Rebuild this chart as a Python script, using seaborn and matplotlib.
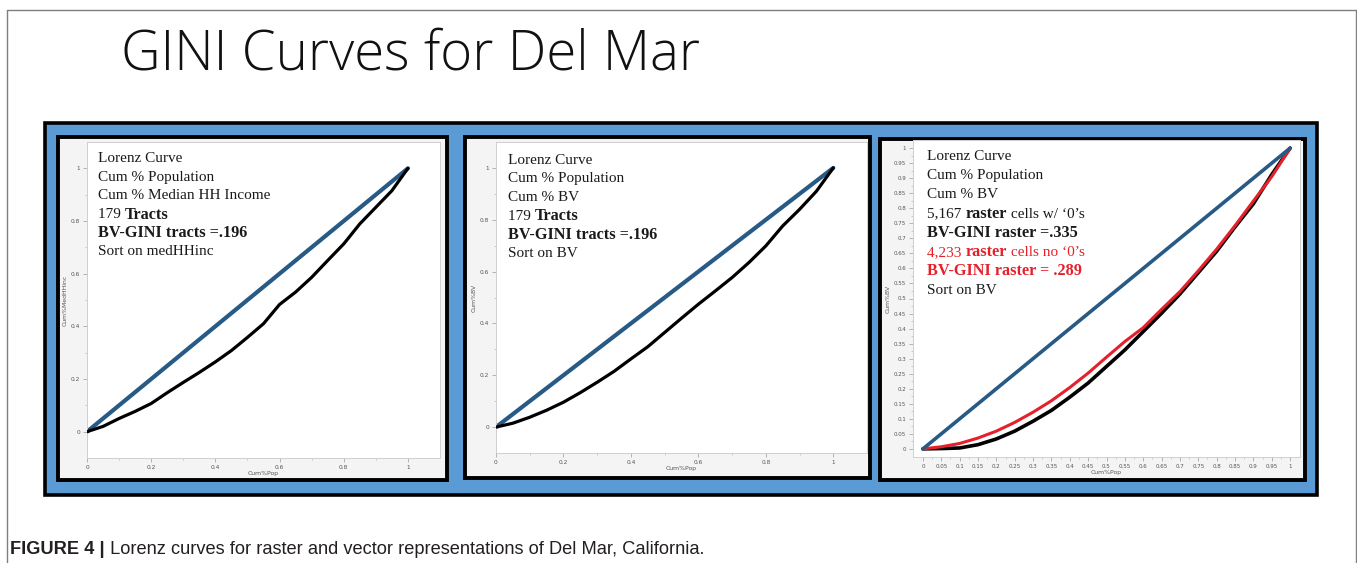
import numpy as np
import pandas as pd
import matplotlib
matplotlib.use("Agg")
import matplotlib.pyplot as plt
import seaborn as sns
from matplotlib.patches import Rectangle
from matplotlib.lines import Line2D

# ---------------- data ----------------
title_text = "GINI Curves for Del Mar"
caption_bold = "FIGURE 4 |"
caption_text = " Lorenz curves for raster and vector representations of Del Mar, California."

equality_x = [0.0, 1.0]
equality_y = [0.0, 1.0]

tract_x = [0, 0.05, 0.1, 0.15, 0.2, 0.25, 0.3, 0.35, 0.4, 0.45, 0.5, 0.55, 0.6, 0.65, 0.7,
           0.75, 0.8, 0.85, 0.9, 0.95, 1.0]
income_y = [0, 0.02, 0.05, 0.077, 0.107, 0.148, 0.187, 0.225, 0.265, 0.308, 0.358, 0.41,
            0.483, 0.53, 0.586, 0.65, 0.713, 0.789, 0.852, 0.915, 1.0]
bv_tract_y = [0, 0.015, 0.038, 0.065, 0.096, 0.133, 0.173, 0.215, 0.263, 0.31, 0.365, 0.42,
              0.474, 0.525, 0.577, 0.635, 0.699, 0.776, 0.84, 0.91, 1.0]

raster_x = [0, 0.05, 0.1, 0.15, 0.2, 0.25, 0.3, 0.35, 0.4, 0.45, 0.5, 0.55, 0.6, 0.65, 0.7,
            0.75, 0.8, 0.85, 0.9, 0.95, 1.0]
raster_zeros_y = [0, 0.001, 0.003, 0.014, 0.033, 0.059, 0.092, 0.128, 0.172, 0.219, 0.274,
                  0.329, 0.39, 0.451, 0.515, 0.586, 0.657, 0.738, 0.815, 0.912, 1.0]
raster_nozeros_y = [0, 0.007, 0.018, 0.036, 0.059, 0.088, 0.122, 0.16, 0.204, 0.252, 0.305,
                    0.357, 0.403, 0.464, 0.523, 0.592, 0.664, 0.742, 0.824, 0.905, 1.0]

tract_ticks = [0, 0.2, 0.4, 0.6, 0.8, 1.0]
tract_tick_labels = ["0", "0.2", "0.4", "0.6", "0.8", "1"]
raster_ticks = [round(0.05 * i, 2) for i in range(21)]
raster_tick_labels = ["0", "0.05", "0.1", "0.15", "0.2", "0.25", "0.3", "0.35", "0.4", "0.45",
                      "0.5", "0.55", "0.6", "0.65", "0.7", "0.75", "0.8", "0.85", "0.9", "0.95", "1"]

TXT = "#1a1a1a"
RED = "#e5202b"
left_lines = [
    [("Lorenz Curve", "normal", TXT)],
    [("Cum % Population", "normal", TXT)],
    [("Cum % Median HH Income", "normal", TXT)],
    [("179 ", "normal", TXT), ("Tracts", "bold", TXT)],
    [("BV-GINI tracts =.196", "bold", TXT)],
    [("Sort on medHHinc", "normal", TXT)],
]
mid_lines = [
    [("Lorenz Curve", "normal", TXT)],
    [("Cum % Population", "normal", TXT)],
    [("Cum % BV", "normal", TXT)],
    [("179 ", "normal", TXT), ("Tracts", "bold", TXT)],
    [("BV-GINI tracts =.196", "bold", TXT)],
    [("Sort on BV", "normal", TXT)],
]
right_lines = [
    [("Lorenz Curve", "normal", TXT)],
    [("Cum % Population", "normal", TXT)],
    [("Cum % BV", "normal", TXT)],
    [("5,167 ", "normal", TXT), ("raster", "bold", TXT),
     (" cells w/ \u20180\u2019s", "normal", TXT)],
    [("BV-GINI raster =.335", "bold", TXT)],
    [("4,233 ", "normal", RED), ("raster", "bold", RED),
     (" cells no \u20180\u2019s", "normal", RED)],
    [("BV-GINI raster = .289", "bold", RED)],
    [("Sort on BV", "normal", TXT)],
]

# ---------------- figure ----------------
sns.set_theme(style="white")
plt.rcParams["font.family"] = ["DejaVu Sans"]

W, H = 1357, 563
fig = plt.figure(figsize=(W / 100, H / 100), dpi=100)
fig.patch.set_facecolor("white")
renderer = fig.canvas.get_renderer()


def fx(px):
    return px / W


def fy(py):
    return 1 - py / H


def prect(x0, y0, x1, y1):
    return [x0 / W, 1 - y1 / H, (x1 - x0) / W, (y1 - y0) / H]


def box(x0, y0, x1, y1, fc, ec, lw, z):
    r = Rectangle((x0 / W, 1 - y1 / H), (x1 - x0) / W, (y1 - y0) / H,
                  transform=fig.transFigure, facecolor=fc, edgecolor=ec, linewidth=lw, zorder=z)
    fig.add_artist(r)


# outer slide frame
for xs, ys in [([7, 7], [10, H]), ([7, 1356], [10, 10]), ([1356, 1356], [10, H])]:
    fig.add_artist(Line2D([fx(v) for v in xs], [fy(v) for v in ys], transform=fig.transFigure,
                          color="#7f7f7f", lw=1.0, zorder=-5))

# blue panel and white inner panels
box(45, 123, 1317, 495, "#5b9bd5", "black", 2.6, -4)
box(58, 137, 447, 480, "#f4f4f4", "black", 2.8, -3)
box(465, 137, 870, 478, "#f4f4f4", "black", 2.8, -3)
box(880, 139, 1305, 480, "#f4f4f4", "black", 2.8, -3)


def text_width(s, size, family, weight):
    t1 = fig.text(0, 0, s + "|", fontsize=size, family=family, fontweight=weight)
    t2 = fig.text(0, 0, "|", fontsize=size, family=family, fontweight=weight)
    w = t1.get_window_extent(renderer).width - t2.get_window_extent(renderer).width
    t1.remove()
    t2.remove()
    return w


def fit_text(x, y, s, target_w, family, weight="normal", color="black", size0=20, va="center"):
    t = fig.text(fx(x), fy(y), s, fontsize=size0, family=family, fontweight=weight, color=color,
                 ha="left", va=va)
    w = t.get_window_extent(renderer).width
    t.set_fontsize(size0 * target_w / w)
    return t


SERIF = ["Liberation Serif", "DejaVu Serif"]


def rich(x, y, parts, size=11.0, bold_size=11.7):
    for s, weight, color in parts:
        sz = bold_size if weight == "bold" else size
        fig.text(fx(x), fy(y), s, fontsize=sz, family=SERIF, fontweight=weight, color=color,
                 ha="left", va="center", zorder=10)
        x += text_width(s, sz, SERIF, weight)


# title
fit_text(121, 69, title_text, 578, ["Open Sans", "Lato", "DejaVu Sans"], weight=300,
         color="#111111", size0=40, va="baseline")

# caption (bold lead + regular text fitted to the reference width)
cap_family = ["Liberation Sans", "DejaVu Sans"]
s0 = 12.0
wtot = text_width(caption_bold, s0, cap_family, "bold") + text_width(caption_text, s0, cap_family, "normal")
cap_size = s0 * 695 / wtot
fig.text(fx(10), fy(549), caption_bold, fontsize=cap_size, family=cap_family, fontweight="bold",
         color="#231f20", ha="left", va="center")
cx = 10 + text_width(caption_bold, cap_size, cap_family, "bold")
fig.text(fx(cx), fy(549), caption_text, fontsize=cap_size, family=cap_family, color="#231f20",
         ha="left", va="center")

BLUE = "#285a86"
tick_color = "#555555"


def style_axes(ax, ticks, labels, xlim, ylim, ylabel, minor, lsize=4.2):
    ax.set_facecolor("white")
    ax.set_xlim(*xlim)
    ax.set_ylim(*ylim)
    ax.set_xticks(ticks)
    ax.set_xticklabels(labels)
    ax.set_yticks(ticks)
    ax.set_yticklabels(labels)
    ax.set_xticks(minor, minor=True)
    ax.set_yticks(minor, minor=True)
    ax.tick_params(which="major", length=3, width=0.5, color="#999999", labelsize=lsize,
                   labelcolor=tick_color, pad=2, direction="out", bottom=True, left=True)
    ax.tick_params(which="minor", length=1.6, width=0.4, color="#aaaaaa", bottom=True, left=True)
    for sp in ax.spines.values():
        sp.set_color("#cfcfcf")
        sp.set_linewidth(0.7)
    ax.set_xlabel("Cum%Pop", fontsize=4.4, color=tick_color, labelpad=1)
    ax.set_ylabel(ylabel, fontsize=4.4, color=tick_color, labelpad=2)
    ax.grid(False)


# left panel
ax1 = fig.add_axes(prect(87, 142, 440, 458))
sns.lineplot(x=equality_x, y=equality_y, ax=ax1, color=BLUE, lw=3.0, zorder=2)
sns.lineplot(x=tract_x, y=income_y, ax=ax1, color="black", lw=2.3, zorder=3,
             solid_capstyle="round", solid_joinstyle="round")
style_axes(ax1, tract_ticks, tract_tick_labels, (0, 1.1), (-0.1, 1.1), "Cum%MedHHinc",
           [round(0.1 * i, 1) for i in range(11)])

# middle panel
ax2 = fig.add_axes(prect(496, 142, 867, 453))
sns.lineplot(x=equality_x, y=equality_y, ax=ax2, color=BLUE, lw=3.0, zorder=2)
sns.lineplot(x=tract_x, y=bv_tract_y, ax=ax2, color="black", lw=2.3, zorder=3,
             solid_capstyle="round", solid_joinstyle="round")
style_axes(ax2, tract_ticks, tract_tick_labels, (0, 1.1), (-0.1, 1.1), "Cum%BV",
           [round(0.1 * i, 1) for i in range(11)])

# right panel
ax3 = fig.add_axes(prect(913, 140, 1300, 457))
sns.lineplot(x=raster_x, y=raster_zeros_y, ax=ax3, color="black", lw=2.6, zorder=2)
sns.lineplot(x=raster_x, y=raster_nozeros_y, ax=ax3, color=RED, lw=2.2, zorder=3)
sns.lineplot(x=equality_x, y=equality_y, ax=ax3, color=BLUE, lw=2.6, zorder=4)
style_axes(ax3, raster_ticks, raster_tick_labels, (-0.027, 1.027), (-0.027, 1.027), "Cum%BV",
           [round(0.025 * i, 3) for i in range(41)], lsize=4.0)

# annotation text blocks
for i, parts in enumerate(left_lines):
    rich(98, 158.5 + 18.7 * i, parts)
for i, parts in enumerate(mid_lines):
    rich(508, 160 + 18.7 * i, parts)
for i, parts in enumerate(right_lines):
    rich(927, 156.7 + 19.1 * i, parts)

fig.savefig("out.png", dpi=100)
